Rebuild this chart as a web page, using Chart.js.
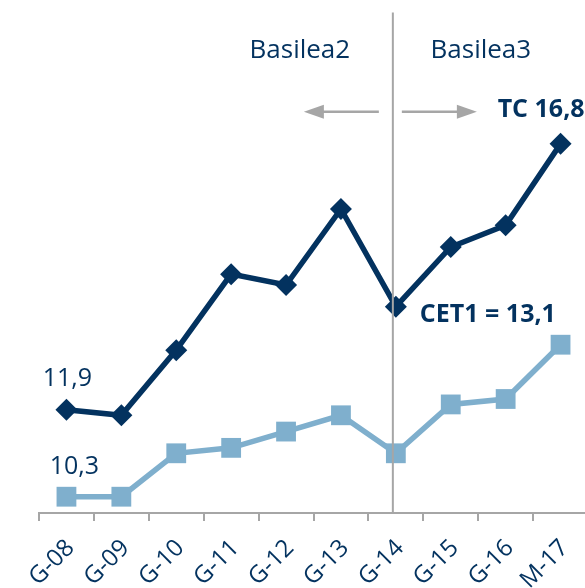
<!DOCTYPE html>
<html>
<head>
<meta charset="utf-8">
<script src="https://cdn.jsdelivr.net/npm/chart.js@4.4.0/dist/chart.umd.min.js"></script>
<style>
    html, body { margin: 0; padding: 0; background: #fff; overflow: hidden; }
    #wrap { width: 588px; height: 588px; }
</style>
</head>
<body>
<div id="wrap"><canvas id="capitalChart"></canvas></div>
<script>
// datos del gráfico
const periodos = ['G-08', 'G-09', 'G-10', 'G-11', 'G-12', 'G-13', 'G-14', 'G-15', 'G-16', 'M-17'];
const capitalTotal = [11.9, 11.8, 13.0, 14.4, 14.2, 15.6, 13.8, 14.9, 15.3, 16.8];
const cet1 = [10.3, 10.3, 11.1, 11.2, 11.5, 11.8, 11.1, 12.0, 12.1, 13.1];
const regimenes = ['Basilea2', 'Basilea3'];
const indiceCambio = 6; // G-14: paso de Basilea2 a Basilea3
const ejeMin = 10;
const ejeMax = 19.45;

const azulOscuro = '#03325f';
const azulClaro = '#7fafcd';
const gris = '#a6a6a6';
const fuente = '"Open Sans", "Liberation Sans", sans-serif';

const coma = v => v.toFixed(1).replace('.', ',');

// anotaciones: línea divisoria, flechas, textos y etiquetas del eje x
const anotaciones = {
    id: 'anotaciones',
    afterDatasetsDraw(chart) {
        const ctx = chart.ctx;
        const x = chart.scales.x;
        const y = chart.scales.y;
        const corte = x.getPixelForValue(indiceCambio) - 3;

        ctx.save();
        // línea vertical
        ctx.strokeStyle = gris;
        ctx.lineWidth = 2;
        ctx.beginPath();
        ctx.moveTo(corte, y.getPixelForValue(19.22));
        ctx.lineTo(corte, y.getPixelForValue(ejeMin));
        ctx.stroke();

        // flechas
        const yFlecha = y.getPixelForValue(17.39);
        const flecha = (desde, hasta) => {
            const dir = Math.sign(hasta - desde);
            ctx.strokeStyle = gris;
            ctx.fillStyle = gris;
            ctx.lineWidth = 2.5;
            ctx.beginPath();
            ctx.moveTo(desde, yFlecha);
            ctx.lineTo(hasta - dir * 18, yFlecha);
            ctx.stroke();
            ctx.beginPath();
            ctx.moveTo(hasta, yFlecha);
            ctx.lineTo(hasta - dir * 20, yFlecha - 7);
            ctx.lineTo(hasta - dir * 20, yFlecha + 7);
            ctx.closePath();
            ctx.fill();
        };
        flecha(corte - 14, corte - 89);
        flecha(corte + 9, corte + 84);

        // textos
        ctx.fillStyle = azulOscuro;
        ctx.textBaseline = 'alphabetic';
        ctx.font = '26px ' + fuente;
        ctx.textAlign = 'center';
        const yTitulo = y.getPixelForValue(18.38);
        ctx.fillText(regimenes[0], corte - 93, yTitulo);
        ctx.fillText(regimenes[1], corte + 88, yTitulo);

        ctx.font = '25px ' + fuente;
        ctx.fillText(coma(capitalTotal[0]), x.getPixelForValue(0) + 1, y.getPixelForValue(capitalTotal[0]) - 24);
        ctx.fillText(coma(cet1[0]), x.getPixelForValue(0) + 8, y.getPixelForValue(cet1[0]) - 23);

        ctx.font = 'bold 25px ' + fuente;
        const ultimo = periodos.length - 1;
        ctx.textAlign = 'right';
        ctx.fillText('TC ' + coma(capitalTotal[ultimo]), x.getPixelForValue(ultimo) + 24, y.getPixelForValue(capitalTotal[ultimo]) - 27);
        ctx.textAlign = 'left';
        ctx.fillText('CET1 = ' + coma(cet1[ultimo]), x.getPixelForValue(indiceCambio) + 24, y.getPixelForValue(capitalTotal[indiceCambio]) + 15);

        // etiquetas del eje x giradas 45°
        ctx.font = '24px ' + fuente;
        ctx.textAlign = 'right';
        const yEtiqueta = x.top + 36;
        periodos.forEach((p, i) => {
            ctx.save();
            ctx.translate(x.getPixelForValue(i) + 9, yEtiqueta);
            ctx.rotate(-Math.PI / 4);
            ctx.fillText(p, 0, 0);
            ctx.restore();
        });
        ctx.restore();
    }
};

document.addEventListener('DOMContentLoaded', function() {
    const ctx = document.getElementById('capitalChart').getContext('2d');
    new Chart(ctx, {
        type: 'line',
        data: {
            labels: periodos,
            datasets: [{
                label: 'TC',
                data: capitalTotal,
                borderColor: azulOscuro,
                backgroundColor: azulOscuro,
                borderWidth: 5.5,
                pointStyle: 'rectRot',
                pointRadius: 11,
                pointBorderWidth: 0,
                tension: 0
            }, {
                label: 'CET1',
                data: cet1,
                borderColor: azulClaro,
                backgroundColor: azulClaro,
                borderWidth: 5.5,
                pointStyle: 'rect',
                pointRadius: 14,
                pointBorderWidth: 0,
                tension: 0
            }]
        },
        options: {
            responsive: true,
            maintainAspectRatio: false,
            animation: false,
            devicePixelRatio: 1,
            layout: {
                autoPadding: false,
                padding: { left: 39, right: 0, top: 0, bottom: 0 }
            },
            plugins: {
                legend: { display: false },
                tooltip: { enabled: false }
            },
            scales: {
                x: {
                    offset: true,
                    grid: {
                        offset: true,
                        drawOnChartArea: false,
                        drawTicks: true,
                        tickLength: 8,
                        color: gris,
                        lineWidth: 2
                    },
                    border: { color: gris, width: 2 },
                    ticks: { display: false, autoSkip: false },
                    afterFit(scale) {
                        scale.height = 75;
                        scale.paddingLeft = 0;
                        scale.paddingRight = 0;
                    }
                },
                y: {
                    display: false,
                    min: ejeMin,
                    max: ejeMax
                }
            }
        },
        plugins: [anotaciones]
    });
});
</script>
</body>
</html>
